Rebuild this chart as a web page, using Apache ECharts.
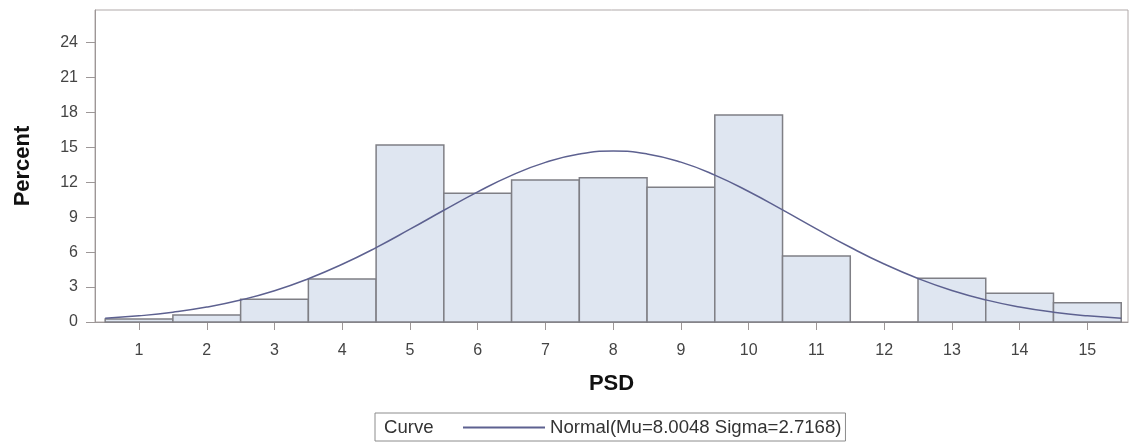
<!DOCTYPE html>
<html>
<head>
<meta charset="utf-8">
<script src="https://cdn.jsdelivr.net/npm/echarts@6/dist/echarts.min.js"></script>
<style>
    html, body { margin: 0; padding: 0; background: #fff; }
    #main { width: 1129px; height: 445px; }
</style>
</head>
<body>
<div id="main"></div>
<script>
// 直方图数据 (PSD 各区间百分比)
var psdBins = [1, 2, 3, 4, 5, 6, 7, 8, 9, 10, 11, 12, 13, 14, 15];
var percentValues = [0.26, 0.6, 1.95, 3.69, 15.2, 11.06, 12.2, 12.4, 11.57, 17.78, 5.67, 0, 3.75, 2.47, 1.66];

// 正态曲线 (读图得到的点)
var curveX = [0.5, 1, 1.5, 2, 2.5, 3, 3.5, 4, 4.5, 5, 5.5, 6, 6.5, 7, 7.5, 8,
    8.5, 9, 9.5, 10, 10.5, 11, 11.5, 12, 12.5, 13, 13.5, 14, 14.5, 15, 15.5];
var curveY = [0.32, 0.53, 0.84, 1.28, 1.89, 2.69, 3.72, 4.96, 6.39, 7.97, 9.6, 11.18, 12.6, 13.71, 14.43, 14.68,
    14.44, 13.73, 12.62, 11.21, 9.63, 8.0, 6.42, 4.98, 3.74, 2.71, 1.9, 1.29, 0.84, 0.53, 0.33];

var xTickLabels = [1, 2, 3, 4, 5, 6, 7, 8, 9, 10, 11, 12, 13, 14, 15];
var yTickLabels = [0, 3, 6, 9, 12, 15, 18, 21, 24];

var legendName = 'Normal(Mu=8.0048 Sigma=2.7168)';

var dom = document.getElementById('main');
var myChart = echarts.init(dom);

var barData = [];
for (var i = 0; i < psdBins.length; i++) {
    barData.push([psdBins[i], percentValues[i]]);
}
var lineData = [];
for (var j = 0; j < curveX.length; j++) {
    lineData.push([curveX[j], curveY[j]]);
}

var font = 'Liberation Sans, Arial, sans-serif';

var option = {
    animation: false,
    backgroundColor: '#fff',
    textStyle: { fontFamily: font },
    grid: {
        left: 95,
        top: 10,
        right: 1,
        bottom: 123,
        show: true,
        borderColor: '#b0a9a9',
        borderWidth: 1
    },
    xAxis: {
        type: 'value',
        min: 0.35,
        max: 15.6,
        name: 'PSD',
        nameLocation: 'middle',
        nameGap: 51,
        nameTextStyle: { fontSize: 22, fontWeight: 'bold', color: '#111' },
        axisLine: { onZero: false, lineStyle: { color: '#9d9797' } },
        axisTick: { show: true, length: 8, customValues: xTickLabels, lineStyle: { color: '#9d9797' } },
        axisLabel: { customValues: xTickLabels, margin: 21, fontSize: 16, color: '#444' },
        splitLine: { show: false }
    },
    yAxis: {
        type: 'value',
        min: 0,
        max: 26.8,
        name: 'Percent',
        nameLocation: 'middle',
        nameGap: 61,
        nameRotate: 90,
        nameTextStyle: { fontSize: 22, fontWeight: 'bold', color: '#111' },
        axisLine: { show: true, lineStyle: { color: '#9d9797' } },
        axisTick: { show: true, length: 9, customValues: yTickLabels, lineStyle: { color: '#9d9797' } },
        axisLabel: { customValues: yTickLabels, margin: 17, fontSize: 16, color: '#444' },
        splitLine: { show: false }
    },
    legend: {
        show: true,
        left: 375,
        top: 413,
        itemWidth: 82,
        itemHeight: 2,
        itemGap: 0,
        padding: [5, 4, 4, 88],
        borderColor: '#8c8c8c',
        borderWidth: 1,
        textStyle: { fontSize: 18.6, color: '#333', fontFamily: font },
        data: [{ name: legendName, icon: 'rect' }]
    },
    graphic: [{
        type: 'text',
        left: 384,
        top: 418,
        style: { text: 'Curve', fontSize: 18.6, fill: '#333', fontFamily: font }
    }],
    series: [{
        type: 'custom',
        name: 'Histogram',
        data: barData,
        renderItem: function (params, api) {
            var x = api.value(0);
            var y = api.value(1);
            var p0 = api.coord([x - 0.5, 0]);
            var p1 = api.coord([x + 0.5, y]);
            return {
                type: 'rect',
                shape: { x: p0[0], y: p1[1], width: p1[0] - p0[0], height: p0[1] - p1[1] },
                style: { fill: '#dfe6f1', stroke: '#7f7f85', lineWidth: 1.5 }
            };
        },
        z: 2
    }, {
        type: 'line',
        name: legendName,
        data: lineData,
        smooth: true,
        showSymbol: false,
        color: '#5d6190',
        lineStyle: { color: '#5d6190', width: 1.5 },
        z: 3
    }]
};

if (option && typeof option === 'object') {
    myChart.setOption(option);
}
</script>
</body>
</html>
